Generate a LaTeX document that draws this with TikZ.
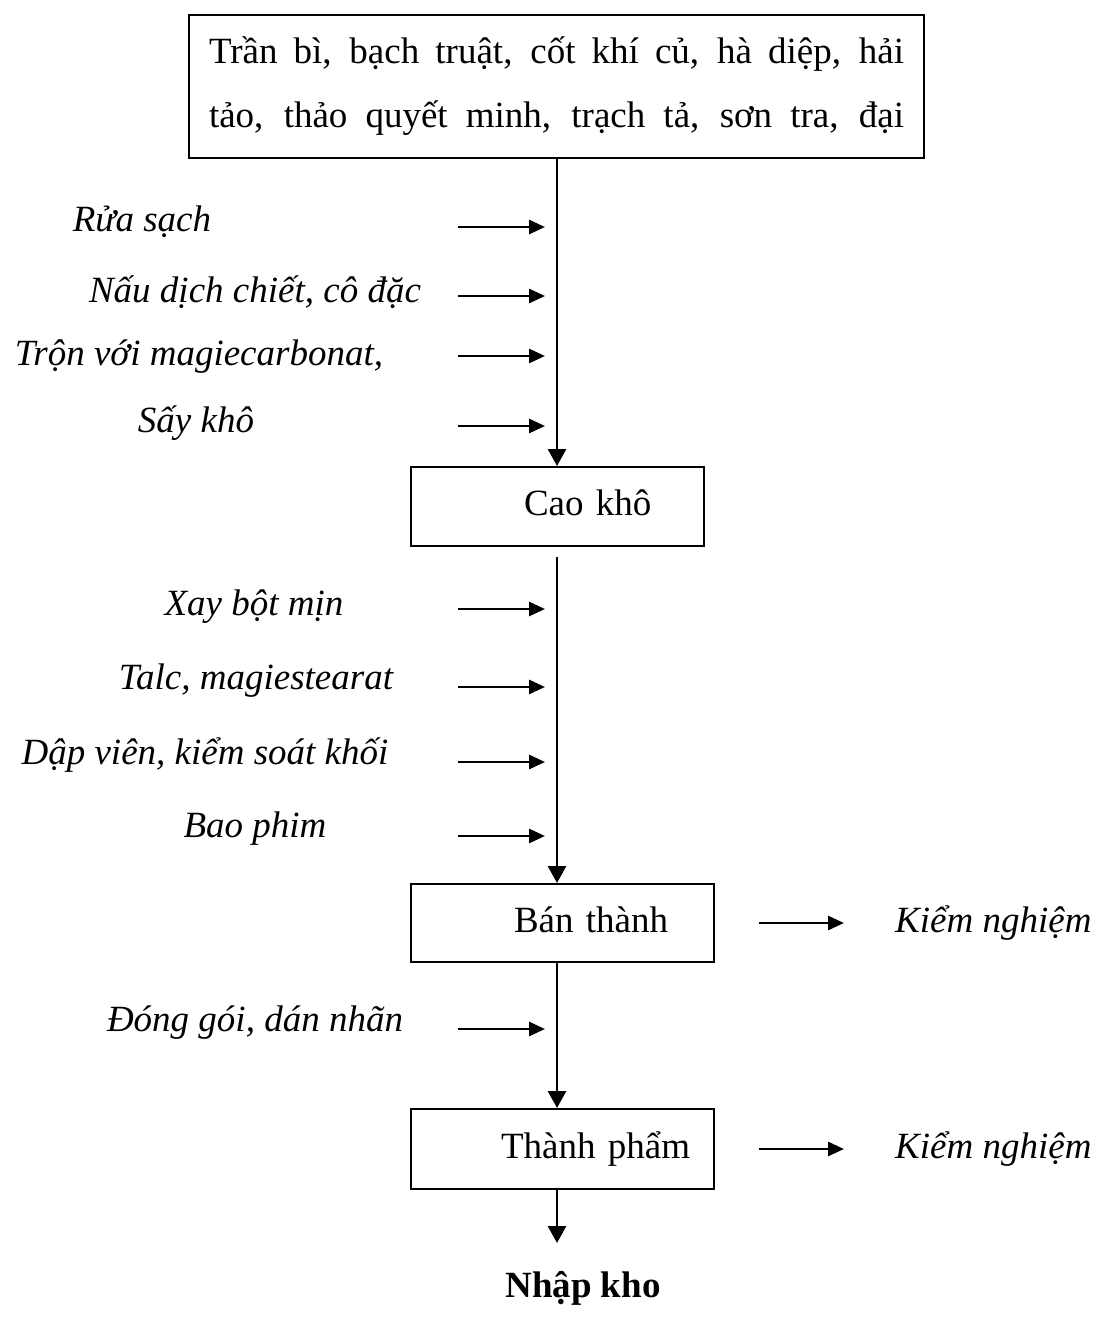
\documentclass[tikz,border=0pt]{standalone}
\usepackage{fontspec}
\setmainfont{Liberation Serif}
\usetikzlibrary{arrows.meta}

\begin{document}
\begin{tikzpicture}[x=1pt,y=-1pt,
  every node/.style={font=\fontsize{37}{44}\selectfont},
  box/.style={draw,line width=2pt,anchor=north west,inner xsep=20pt,inner ysep=0pt,align=left},
  stage/.style={box,minimum height=#1,text height=22pt,text depth=4pt},
  lbl/.style={font=\fontsize{37}{44}\selectfont\itshape,inner sep=0pt},
  flow/.style={line width=2.8pt,-{Triangle[length=17pt,width=18pt]}},
  side/.style={line width=2.8pt,-{Triangle[length=16pt,width=14pt]}}]
\useasboundingbox (0,0) rectangle (1096,1327);
\coordinate (sp) at (557,0);

% raw materials
\node[box,text width=695pt,minimum height=143pt,font=\fontsize{37}{64}\selectfont] (src) at (188,14)
  {\spaceskip=9pt plus 1fil
   \makebox[695pt][s]{Trần bì, bạch truật, cốt khí củ, hà diệp, hải}\\
   \makebox[695pt][s]{tảo, thảo quyết minh, trạch tả, sơn tra, đại}};

% stages
\node[stage=79pt,text width=253pt] (cao) at (410,466) {\hspace*{93pt}Cao khô};
\node[stage=78pt,text width=263pt] (ban) at (410,883) {\hspace*{83pt}Bán thành};
\node[stage=80pt,text width=263pt] (tp) at (410,1108) {\hspace*{70pt}Thành phẩm};
\node[font=\fontsize{37}{44}\selectfont\bfseries] (kho) at (583,1288) {Nhập kho};
\coordinate (end) at (557,1243);

\draw[flow] (src.south -| sp) -- (cao.north -| sp);
\draw[flow,shorten <=10pt] (cao.south -| sp) -- (ban.north -| sp);
\draw[flow] (ban.south -| sp) -- (tp.north -| sp);
\draw[flow] (tp.south -| sp) -- (end);

% steps on the left
\node[lbl] (rua) at (142,222) {Rửa sạch};
\node[lbl] (nau) at (255,292) {Nấu dịch chiết, cô đặc};
\node[lbl] (tron) at (199,357) {Trộn với magiecarbonat,};
\node[lbl] (say) at (196,423) {Sấy khô};
\node[lbl] (xay) at (254,607) {Xay bột mịn};
\node[lbl] (talc) at (256,681) {Talc, magiestearat};
\node[lbl] (dap) at (205,755) {Dập viên, kiểm soát khối};
\node[lbl] (bao) at (255,829) {Bao phim};
\node[lbl] (dong) at (255,1023) {Đóng gói, dán nhãn};

\foreach \y in {227,296,356,426,609,687,762,836,1029}{
  \coordinate (in\y) at (545,\y);
  \draw[side] (in\y) ++(-87,0) -- (in\y);
}

% quality control
\node[lbl,anchor=base west] (kn1) at ([xshift=180pt]ban.base east) {Kiểm nghiệm};
\node[lbl,anchor=base west] (kn2) at ([xshift=180pt]tp.base east) {Kiểm nghiệm};
\draw[side,shorten <=44pt,shorten >=51pt] (ban.east) -- (ban.east -| kn1.west);
\draw[side,shorten <=44pt,shorten >=51pt] (tp.east) -- (tp.east -| kn2.west);
\end{tikzpicture}
\end{document}
